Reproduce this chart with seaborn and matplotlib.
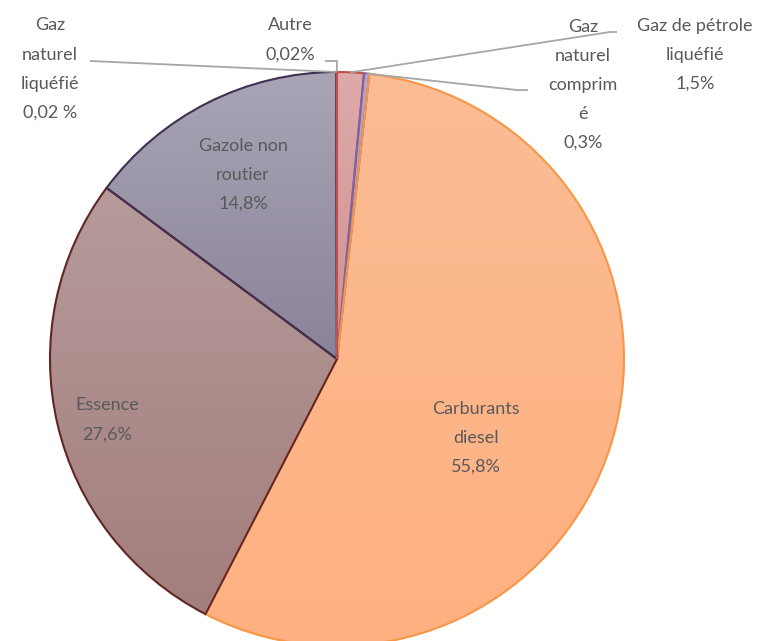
import numpy as np
import matplotlib
matplotlib.use("Agg")
import matplotlib.pyplot as plt
import seaborn as sns

# Slices, clockwise from 12 o'clock
categories = ["Gaz de pétrole liquéfié", "Gaz naturel comprimé", "Carburants diesel",
              "Essence", "Gazole non routier", "Gaz naturel liquéfié", "Autre"]
values = [1.5, 0.3, 55.8, 27.6, 14.8, 0.02, 0.02]
labels = ["Gaz de pétrole\nliquéfié\n1,5%", "Gaz\nnaturel\ncomprim\né\n0,3%",
          "Carburants\ndiesel\n55,8%", "Essence\n27,6%", "Gazole non\nroutier\n14,8%",
          "Gaz\nnaturel\nliquéfié\n0,02 %", "Autre\n0,02%"]

# gradient colours (top, bottom) and edge colours
top_colors = ["#DEAAA9", "#B7A6CB", "#FBBD95", "#B69B9B", "#A9A4B6", "#A9A4B6", "#DEAAA9"]
bottom_colors = ["#CF9292", "#A994C0", "#FFB080", "#A27E7C", "#8B8398", "#8B8398", "#CF9292"]
edge_colors = ["#C0504D", "#8064A2", "#F79646", "#632523", "#3F3151", "#3F3151", "#C0504D"]

sns.set_style("white")
plt.rcParams["font.family"] = ["Lato", "DejaVu Sans"]

W, H = 766, 641
CX, CY, R = 337, 359, 287  # pie centre and radius in pixels


def px(x, y):
    # pixel position (from top-left) -> data coords
    return (x - CX) / R, (CY - y) / R


fig = plt.figure(figsize=(W / 100, H / 100), dpi=100)
ax = fig.add_axes([0, 0, 1, 1])
ax.axis("off")

wedges, _ = ax.pie(values, startangle=90, counterclock=False, radius=1,
                   wedgeprops=dict(linewidth=1.5))
ax.set_aspect("auto")
ax.set_xlim(-CX / R, (W - CX) / R)
ax.set_ylim((CY - H) / R, CY / R)

grad = np.linspace(0, 1, 256).reshape(-1, 1)
for w, c1, c2, ec in zip(wedges, top_colors, bottom_colors, edge_colors):
    w.set_facecolor("none")
    w.set_edgecolor(ec)
    w.set_zorder(3)
    bb = w.get_path().get_extents(w.get_patch_transform())
    cmap = sns.blend_palette([c1, c2], as_cmap=True)
    im = ax.imshow(grad, cmap=cmap, aspect="auto", origin="upper",
                   extent=[bb.x0, bb.x1, bb.y0, bb.y1], zorder=2)
    im.set_clip_path(w)

txt = dict(color="#595959", fontsize=13, ha="center", va="center", linespacing=2.0)

# labels inside the pie
inside = {2: (476, 438), 3: (107, 420), 4: (243, 175)}
for i, (x, y) in inside.items():
    ax.text(*px(x, y), labels[i], zorder=5, **txt)

# outside labels with leader lines
angles = 90 - 360 * (np.cumsum(values) - np.array(values) / 2) / sum(values)
outside = {
    0: ((695, 55), [(610, 32), (617, 32)]),
    1: ((583, 85), [(517, 90), (528, 90)]),
    5: ((50, 69), [(90, 61)]),
    6: ((290, 40), [(337, 61), (325, 61)]),
}
for i, ((lx, ly), pts) in outside.items():
    ax.text(*px(lx, ly), labels[i], zorder=5, **txt)
    a = np.deg2rad(angles[i])
    xs = [np.cos(a) * 1.0] + [px(*p)[0] for p in pts]
    ys = [np.sin(a) * 1.0] + [px(*p)[1] for p in pts]
    ax.plot(xs, ys, color="#A6A6A6", lw=1.3, zorder=4, solid_capstyle="butt")

fig.savefig("out.png", dpi=100)
